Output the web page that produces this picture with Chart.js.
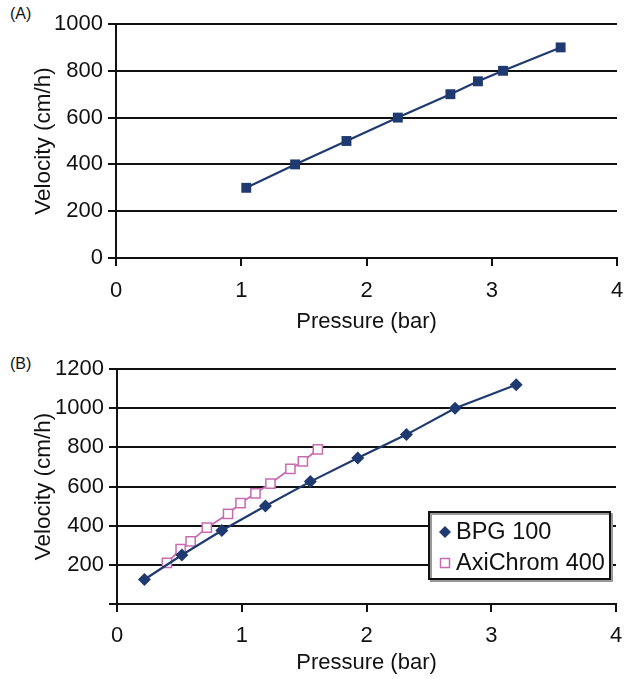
<!DOCTYPE html>
<html>
<head>
<meta charset="utf-8">
<script src="https://cdn.jsdelivr.net/npm/chart.js@4.4.0/dist/chart.umd.min.js"></script>
<style>
  body { margin: 0; background: #fff; width: 624px; height: 679px; position: relative; overflow: hidden; font-family: 'Liberation Sans', Arial, sans-serif; }
  canvas { position: absolute; left: 0; }
  #chartA { top: 0; }
  #chartB { top: 340px; }
  .tag { position: absolute; left: 10px; font-size: 16px; color: #111; }
</style>
</head>
<body>
<div class="tag" style="top:5px">(A)</div>
<canvas id="chartA" width="624" height="340"></canvas>
<div class="tag" style="top:355px">(B)</div>
<canvas id="chartB" width="624" height="339"></canvas>

<script>
// panel A - single column
const pressureA = [1.04, 1.43, 1.84, 2.25, 2.67, 2.89, 3.09, 3.55];
const velocityA = [300, 400, 500, 600, 700, 755, 800, 900];

// panel B - two columns
const pressureBPG = [0.22, 0.52, 0.84, 1.19, 1.55, 1.93, 2.32, 2.71, 3.20];
const velocityBPG = [125, 250, 375, 500, 625, 745, 865, 1000, 1120];
const pressureAxi = [0.40, 0.51, 0.59, 0.72, 0.89, 0.99, 1.11, 1.23, 1.39, 1.49, 1.61];
const velocityAxi = [210, 280, 320, 390, 460, 515, 565, 615, 690, 728, 790];

const xTicks = [0, 1, 2, 3, 4];
const yMaxA = 1000, yMaxB = 1200, yStep = 200;

const navy = '#1f3a70';
const pink = '#c86cb2';
const ink = '#111';
const fontFam = "'Liberation Sans', Arial, sans-serif";

Chart.defaults.font.family = fontFam;
Chart.defaults.color = ink;

function pts(xs, ys) {
  return xs.map((x, i) => ({ x: x, y: ys[i] }));
}

// draws the boxed legend inside the plot of chart B
const legendBox = {
  id: 'legendBox',
  afterDraw(chart) {
    const ctx = chart.ctx;
    const bx = 429, by = 172, bw = 181, bh = 67;
    ctx.save();
    ctx.fillStyle = '#fff';
    ctx.fillRect(bx, by, bw, bh);
    ctx.strokeStyle = '#999';
    ctx.lineWidth = 2;
    ctx.strokeRect(bx + 2, by + 2, bw, bh);
    ctx.strokeStyle = ink;
    ctx.strokeRect(bx, by, bw, bh);
    ctx.font = '23.5px ' + fontFam;
    ctx.textBaseline = 'middle';
    ctx.fillStyle = ink;
    chart.data.datasets.forEach((ds, i) => {
      const cy = by + 20 + i * 31;
      const cx = bx + 16;
      ctx.save();
      if (ds.pointStyle === 'rectRot') {
        ctx.fillStyle = ds.borderColor;
        ctx.beginPath();
        ctx.moveTo(cx, cy - 6); ctx.lineTo(cx + 6, cy); ctx.lineTo(cx, cy + 6); ctx.lineTo(cx - 6, cy);
        ctx.closePath();
        ctx.fill();
      } else {
        ctx.strokeStyle = ds.borderColor;
        ctx.lineWidth = 1.5;
        ctx.strokeRect(cx - 4.5, cy - 4.5, 9, 9);
      }
      ctx.restore();
      ctx.fillText(ds.label, bx + 27, cy + 1);
    });
    ctx.restore();
  }
};

function makeChart(id, datasets, yMax, yW, xH, pad, hideZero, tickPad, plugins) {
  return new Chart(document.getElementById(id), {
    type: 'scatter',
    data: { datasets: datasets },
    plugins: plugins,
    options: {
      responsive: false,
      animation: false,
      layout: { padding: pad },
      plugins: { legend: { display: false }, tooltip: { enabled: false } },
      scales: {
        x: {
          type: 'linear', min: 0, max: 4,
          afterBuildTicks: s => { s.ticks = xTicks.map(v => ({ value: v })); },
          ticks: { padding: tickPad, font: { size: 22 }, color: ink },
          grid: { drawOnChartArea: false, drawTicks: true, tickLength: 8, color: ink, lineWidth: 2 },
          border: { color: ink, width: 2 },
          title: { display: true, text: 'Pressure (bar)', font: { size: 22 }, color: ink, padding: 0 },
          afterFit: s => { s.height = xH; s.paddingLeft = 0; s.paddingRight = 0; }
        },
        y: {
          min: 0, max: yMax,
          ticks: { stepSize: yStep, padding: 5, font: { size: 22 }, color: ink,
                   callback: v => (hideZero && v === 0) ? '' : v },
          grid: { color: ink, lineWidth: 2, tickLength: 8 },
          border: { color: ink, width: 2 },
          title: { display: true, text: 'Velocity (cm/h)', font: { size: 22.5 }, color: ink, padding: 0 },
          afterFit: s => { s.width = yW; s.paddingTop = 0; s.paddingBottom = 0; }
        }
      }
    }
  });
}

makeChart('chartA', [{
  label: 'Velocity',
  data: pts(pressureA, velocityA),
  showLine: true,
  borderColor: navy, backgroundColor: navy, borderWidth: 2.2,
  pointStyle: 'rect', pointRadius: 7, pointBackgroundColor: navy, pointBorderWidth: 0
}], yMaxA, 86, 77, { left: 30, top: 24, right: 7, bottom: 5 }, false, 12, []);

makeChart('chartB', [{
  label: 'BPG 100',
  data: pts(pressureBPG, velocityBPG),
  showLine: true,
  borderColor: navy, backgroundColor: navy, borderWidth: 2.2,
  pointStyle: 'rectRot', pointRadius: 6.5, pointBackgroundColor: navy, pointBorderWidth: 0
}, {
  label: 'AxiChrom 400',
  data: pts(pressureAxi, velocityAxi),
  showLine: true,
  borderColor: pink, backgroundColor: pink, borderWidth: 1.8,
  pointStyle: 'rect', pointRadius: 6.5, pointBackgroundColor: '#fff', pointBorderColor: pink, pointBorderWidth: 1.5
}], yMaxB, 87, 72, { left: 30, top: 29, right: 6, bottom: 3 }, true, 11, [legendBox]);
</script>
</body>
</html>
